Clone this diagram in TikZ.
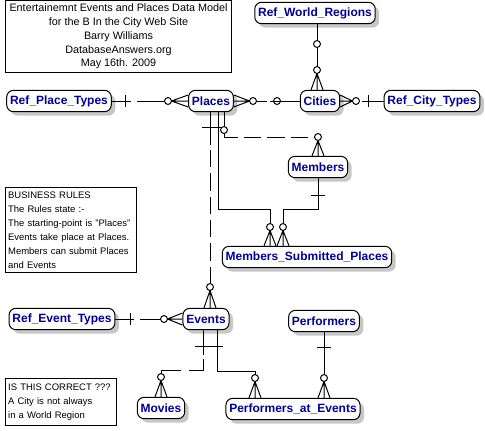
\documentclass[tikz,border=0pt]{standalone}
\usepackage{fontspec}
\setmainfont{Liberation Sans}
\usetikzlibrary{shadows,calc}
\definecolor{entityblue}{RGB}{0,0,150}
\tikzset{
  entity/.style={draw, line width=0.75pt, rounded corners=5pt, fill=white, text=entityblue,
    font=\fontsize{9}{10}\selectfont\bfseries, minimum height=16pt, inner xsep=2.5pt, inner ysep=0pt,
    drop shadow={shadow xshift=3pt, shadow yshift=-3pt, fill=black!22, opacity=1}},
  notebox/.style={draw, line width=0.75pt, font=\fontsize{7.1}{10.5}\selectfont, inner xsep=2pt, inner ysep=0pt},
  rel/.style={line width=0.75pt},
  dashed rel/.style={line width=0.75pt, dash pattern=on 13pt off 4.5pt}
}
% crow's foot: #1 circle edge, #2 point on the box edge
\newcommand{\crowdown}[2]{\draw[rel] (#1) -- ($(#2)+(-6,0)$) (#1) -- (#2) (#1) -- ($(#2)+(6,0)$);}
\newcommand{\crowside}[2]{\draw[rel] (#1) -- ($(#2)+(0,-6)$) (#1) -- (#2) (#1) -- ($(#2)+(0,6)$);}
\begin{document}
\begin{tikzpicture}[x=0.75pt,y=-0.75pt]
\useasboundingbox (0,0) rectangle (485,430);

% Notes
\node[notebox, font=\fontsize{8.1}{10.3}\selectfont, minimum width=170pt, minimum height=53.5pt, align=center] (title) at (118.5,36.5)
  {Entertainemnt Events and Places Data Model\\for the B In the City Web Site\\Barry Williams\\DatabaseAnswers.org\\May 16th. 2009};
\node[notebox, anchor=north west, text width=94pt, minimum height=64pt, align=left] (rules) at (5,187)
  {BUSINESS RULES\\The Rules state :-\\The starting-point is "Places"\\Events take place at Places.\\Members can submit Places\\and Events};
\node[notebox, anchor=north west, text width=79pt, minimum height=35pt, align=left] (correct) at (5,378)
  {IS THIS CORRECT ???\\A City is not always\\in a World Region};

% Entities
\node[entity] (worldregions) at (315,13) {Ref\_World\_Regions};
\node[entity] (placetypes) at (59,101) {Ref\_Place\_Types};
\node[entity] (places) at (211,101) {Places};
\node[entity] (cities) at (320,101) {Cities};
\node[entity] (citytypes) at (432,101) {Ref\_City\_Types};
\node[entity] (members) at (318,167) {Members};
\node[entity] (msp) at (307,257) {Members\_Submitted\_Places};
\node[entity] (eventtypes) at (62,319) {Ref\_Event\_Types};
\node[entity] (events) at (206,319) {Events};
\node[entity] (performers) at (324,321) {Performers};
\node[entity] (movies) at (161,408) {Movies};
\node[entity] (pae) at (293,409) {Performers\_at\_Events};

% Drawing relationship Ref_World_Regions -- Cities
\draw[rel] (worldregions.south -| 317,0) -- (317,40.5) (317,47.5) -- (317,66.5);
\draw[rel] (317,44) circle (2.6pt) (317,70) circle (2.6pt);
\crowdown{317,73.5}{cities.north -| 317,0}

% Drawing relationship Places -- Cities
\crowside{249.5,101}{places.east}
\draw[rel] (253,101) circle (2.6pt);
\draw[rel] (256.5,101) -- (267,101) (270,101) -- (cities.west);
\draw[rel] (277,101) circle (2.6pt);

% Drawing relationship Cities -- Ref_City_Types
\crowside{352.5,101}{cities.east}
\draw[rel] (356,101) circle (2.6pt);
\draw[rel] (362,101) -- (citytypes.west) (368,95) -- (368,107);

% Drawing relationship Ref_Place_Types -- Places
\draw[rel] (placetypes.east) -- (131,101) (125,95) -- (125,107);
\draw[rel] (137,101) -- (164.5,101);
\draw[rel] (168,101) circle (2.6pt);
\crowside{171.5,101}{places.west}

% Drawing relationship Places -- Members
\draw[rel] (places.south -| 224,0) -- (224,126.5);
\draw[rel] (224,130) circle (2.6pt);
\draw[dashed rel] (224,133.5) |- (314.5,137);
\draw[rel] (318,137) circle (2.6pt);
\crowdown{318,140.5}{members.north}

% Drawing relationship Places -- Members_Submitted_Places
\draw[rel] (places.south -| 218,0) |- (270,209) -- (270,223.5);
\draw[rel] (202,127) -- (222,127);
\draw[rel] (270,227) circle (2.6pt);
\crowdown{270,230.5}{msp.north -| 270,0}

% Drawing relationship Members -- Members_Submitted_Places
\draw[rel] (members.south) |- (283,209) -- (283,223.5);
\draw[rel] (311,195) -- (325,195);
\draw[rel] (283,227) circle (2.6pt);
\crowdown{283,230.5}{msp.north -| 283,0}

% Drawing relationship Places -- Events
\draw[rel] (places.south -| 210,0) -- (210,145);
\draw[dashed rel] (210,150) -- (210,283.5);
\draw[rel] (210,287) circle (2.6pt);
\crowdown{210,290.5}{events.north -| 210,0}

% Drawing relationship Ref_Event_Types -- Events
\draw[rel] (eventtypes.east) -- (134,319) (130,313) -- (130,325);
\draw[rel] (140,319) -- (160.5,319);
\draw[rel] (164,319) circle (2.6pt);
\crowside{167.5,319}{events.west}

% Drawing relationship Events -- Movies
\draw[rel] (events.south -| 203,0) -- (203,355) (195,346) -- (223,346);
\draw[rel] (203,359) |- (189,370) (181,370) -| (161,373.5);
\draw[rel] (161,377) circle (2.6pt);
\crowdown{161,380.5}{movies.north}

% Drawing relationship Events -- Performers_at_Events
\draw[rel] (events.south -| 217,0) |- (255,371) -- (255,374.5);
\draw[rel] (255,378) circle (2.6pt);
\crowdown{255,381.5}{pae.north -| 255,0}

% Drawing relationship Performers -- Performers_at_Events
\draw[rel] (performers.south) -- (324,374.5) (317,347) -- (331,347);
\draw[rel] (324,378) circle (2.6pt);
\crowdown{324,381.5}{pae.north -| 324,0}
\end{tikzpicture}
\end{document}
